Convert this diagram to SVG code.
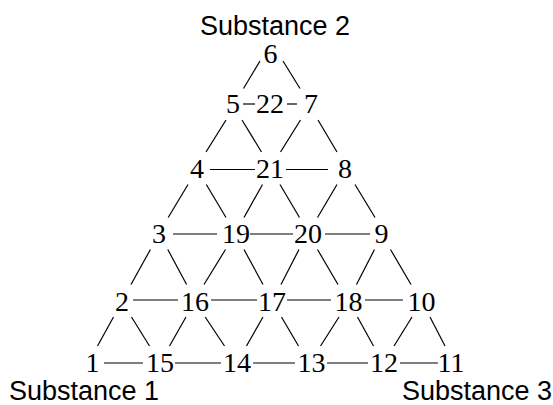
<svg xmlns="http://www.w3.org/2000/svg" width="553" height="405" viewBox="0 0 553 405">
<style>
.n{font-family:"Liberation Serif","Times New Roman",serif;font-size:28px;fill:#000;text-anchor:middle}
.l{font-family:"Liberation Sans",Arial,sans-serif;font-size:27px;fill:#000}
.c line{stroke:#000;stroke-width:1.2;fill:none}
</style>
<rect width="553" height="405" fill="#fff"/>
<g id="connectors" class="c">
<line x1="104" y1="363" x2="143" y2="363"/>
<line x1="175" y1="363" x2="221" y2="363"/>
<line x1="253" y1="363" x2="295" y2="363"/>
<line x1="327" y1="363" x2="368" y2="363"/>
<line x1="400" y1="363" x2="438" y2="363"/>
<line x1="133" y1="300" x2="178" y2="300"/>
<line x1="211" y1="300" x2="257" y2="300"/>
<line x1="287" y1="300" x2="331" y2="300"/>
<line x1="365" y1="300" x2="403" y2="300"/>
<line x1="173" y1="234" x2="217" y2="234"/>
<line x1="250" y1="234" x2="293" y2="234"/>
<line x1="325" y1="234" x2="370" y2="234"/>
<line x1="210" y1="169.5" x2="255" y2="169.5"/>
<line x1="286" y1="169.5" x2="328" y2="169.5"/>
<line x1="243" y1="104" x2="255" y2="104"/>
<line x1="287" y1="104" x2="297" y2="104"/>
<line x1="260" y1="61" x2="243.5" y2="88.5"/>
<line x1="283" y1="61" x2="300" y2="88.5"/>
<line x1="226" y1="120" x2="206" y2="152"/>
<line x1="242" y1="120" x2="261.5" y2="152"/>
<line x1="300.5" y1="120" x2="280.5" y2="152"/>
<line x1="318" y1="120" x2="337" y2="152"/>
<line x1="188" y1="184.5" x2="168.2" y2="217.5"/>
<line x1="206.3" y1="184.5" x2="226" y2="217.5"/>
<line x1="262.5" y1="184.5" x2="244" y2="217.5"/>
<line x1="280" y1="184.5" x2="299.5" y2="217.5"/>
<line x1="337" y1="184.5" x2="317.5" y2="217.5"/>
<line x1="355" y1="184.5" x2="375" y2="217.5"/>
<line x1="150.4" y1="249.5" x2="131" y2="284.5"/>
<line x1="167.8" y1="249.5" x2="186.6" y2="284.5"/>
<line x1="225.5" y1="249.5" x2="204" y2="284.5"/>
<line x1="244" y1="249.5" x2="263" y2="284.5"/>
<line x1="299" y1="249.5" x2="281" y2="284.5"/>
<line x1="317.5" y1="249.5" x2="338" y2="284.5"/>
<line x1="374.5" y1="249.5" x2="356.5" y2="284.5"/>
<line x1="390.5" y1="249.5" x2="411" y2="284.5"/>
<line x1="113.5" y1="317" x2="97.5" y2="346"/>
<line x1="131.5" y1="317" x2="149.5" y2="346"/>
<line x1="186" y1="317" x2="169.5" y2="346"/>
<line x1="205.2" y1="317" x2="224.5" y2="346"/>
<line x1="263" y1="317" x2="246.5" y2="346"/>
<line x1="281.5" y1="317" x2="298.5" y2="346"/>
<line x1="339" y1="317" x2="320.5" y2="346"/>
<line x1="357.5" y1="317" x2="373.5" y2="346"/>
<line x1="412" y1="317" x2="394" y2="346"/>
<line x1="430" y1="317" x2="445" y2="346"/>
</g>
<g id="n6"><text class="n" x="270.5" y="63">6</text></g>
<g id="n5"><text class="n" x="233" y="113">5</text></g>
<g id="n22"><text class="n" x="270" y="113">22</text></g>
<g id="n7"><text class="n" x="311" y="113">7</text></g>
<g id="n4"><text class="n" x="197" y="178">4</text></g>
<g id="n21"><text class="n" x="270" y="178">21</text></g>
<g id="n8"><text class="n" x="345" y="178">8</text></g>
<g id="n3"><text class="n" x="159" y="243">3</text></g>
<g id="n19"><text class="n" x="236" y="243">19</text></g>
<g id="n20"><text class="n" x="308" y="243">20</text></g>
<g id="n9"><text class="n" x="381.5" y="243">9</text></g>
<g id="n2"><text class="n" x="122" y="311">2</text></g>
<g id="n16"><text class="n" x="195" y="311">16</text></g>
<g id="n17"><text class="n" x="272" y="311">17</text></g>
<g id="n18"><text class="n" x="348.5" y="311">18</text></g>
<g id="n10"><text class="n" x="421.5" y="311">10</text></g>
<g id="n1"><text class="n" x="92.5" y="372">1</text></g>
<g id="n15"><text class="n" x="160" y="372">15</text></g>
<g id="n14"><text class="n" x="237" y="372">14</text></g>
<g id="n13"><text class="n" x="311.5" y="372">13</text></g>
<g id="n12"><text class="n" x="384" y="372">12</text></g>
<g id="n11"><text class="n" x="451" y="372">11</text></g>
<g id="s2"><text class="l" x="275" y="35" text-anchor="middle">Substance 2</text></g>
<g id="s1"><text class="l" x="9" y="400">Substance 1</text></g>
<g id="s3"><text class="l" x="552" y="400" text-anchor="end">Substance 3</text></g>
</svg>
